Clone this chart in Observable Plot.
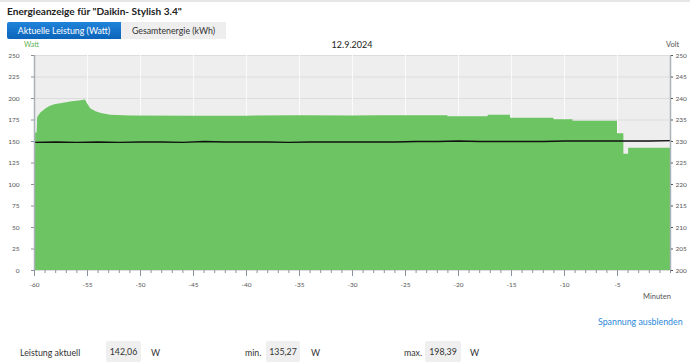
<!DOCTYPE html>
<html>
<head>
<meta charset="utf-8">
<script src="https://cdn.jsdelivr.net/npm/d3@7"></script>
<script src="https://cdn.jsdelivr.net/npm/@observablehq/plot@0.6"></script>
<style>
  html, body { margin:0; padding:0; background:#fff; }
  body { width:690px; height:364px; position:relative; overflow:hidden; font-family: Lato, "Open Sans", sans-serif; color:#333; }
  .abs { position:absolute; white-space:nowrap; }
  #topline { position:absolute; left:0; top:0; width:690px; height:2px; background:#e6e6e6; }
  #title { left:7px; top:5px; font-size:10.1px; font-weight:bold; color:#222; }
  .tab { top:22px; height:17px; line-height:17px; font-size:8.8px; text-align:center; }
  #tab1 { left:7px; width:114px; background:linear-gradient(#2183da,#0b64ba); color:#fff; border-radius:2px 0 0 2px; }
  #tab2 { left:121px; width:105px; background:#eeeeee; color:#333; }
  #watt { left:24px; top:40px; font-size:7px; color:#5fb455; }
  #date { left:352px; top:39px; font-size:9px; color:#222; transform:translateX(-50%); }
  #volt { left:666px; top:40px; font-size:7.5px; color:#555; }
  #chart { position:absolute; left:0; top:40px; }
  #minuten { left:643px; top:292px; font-size:7.5px; color:#555; }
  #toggle { left:598px; top:316px; font-size:8.8px; color:#2b8ad9; }
  .lbl { top:347px; font-size:8.8px; color:#333; }
  .box { top:341px; height:21px; line-height:21px; background:#efefef; font-size:8.8px; color:#333; text-align:center; border-radius:2px; }
</style>
</head>
<body>
<div id="topline"></div>
<div id="title" class="abs">Energieanzeige für "Daikin- Stylish 3.4"</div>
<div id="tab1" class="abs tab">Aktuelle Leistung (Watt)</div>
<div id="tab2" class="abs tab">Gesamtenergie (kWh)</div>
<div id="watt" class="abs">Watt</div>
<div id="date" class="abs">12.9.2024</div>
<div id="volt" class="abs">Volt</div>
<div id="chart"></div>
<div id="minuten" class="abs">Minuten</div>
<div id="toggle" class="abs">Spannung ausblenden</div>
<div class="abs lbl" style="left:20px">Leistung aktuell</div>
<div class="abs box" style="left:106px;width:35px">142,06</div>
<div class="abs lbl" style="left:151px">W</div>
<div class="abs lbl" style="left:245px">min.</div>
<div class="abs box" style="left:266px;width:34px">135,27</div>
<div class="abs lbl" style="left:311px">W</div>
<div class="abs lbl" style="left:404px">max.</div>
<div class="abs box" style="left:425px;width:36px">198,39</div>
<div class="abs lbl" style="left:470px">W</div>
<script>
// Power (W) over time (minutes before now)
const powerMinutes = [-60, -59.9, -59.9, -59.75, -59.7, -59.4, -58.9, -58.5, -58.0, -57.5, -56.6, -55.6, -55.2, -55.0, -54.7, -54.2, -53.7, -52.8, -50.9,
  -45, -40, -35, -30, -27.4, -21.0, -21.0, -17.2, -17.2, -15.1, -15.1, -11.0, -11.0, -9.2, -9.2, -5.0, -5.0, -4.4, -4.4, -3.95, -3.95, 0];
const powerWatts = [144, 144, 160, 160, 178, 183, 188, 191, 193, 194, 196, 197.5, 198.39, 194, 188, 184.5, 182.5, 180.5, 179.6,
  179.5, 179.5, 179.8, 179.6, 179.8, 179.8, 178.7, 178.7, 180.6, 180.6, 177.1, 177.1, 175.2, 175.2, 173.6, 173.6, 159, 159, 135.27, 135.27, 142.06, 142.06];

// Voltage (V)
const voltMinutes = [-60, -58, -56, -54, -52, -50, -48, -46, -44, -42, -40, -38, -36, -34, -32, -30, -28, -26, -24, -22, -20, -18, -16, -14, -12, -10, -8, -6, -4, -2, 0];
const voltValues = [229.8, 229.9, 229.8, 229.9, 229.8, 229.9, 229.9, 229.8, 230.0, 229.9, 229.9, 229.9, 229.8, 229.9, 229.9, 229.9, 229.9, 229.9, 230.0, 230.0, 230.1, 230.0, 230.0, 230.0, 230.0, 230.1, 230.1, 230.1, 230.1, 230.1, 230.2];

const wattTicks = [0, 25, 50, 75, 100, 125, 150, 175, 200, 225, 250];
const majorMinuteTicks = [-60, -55, -50, -45, -40, -35, -30, -25, -20, -15, -10, -5];
const minorMinuteTicks = d3.range(-60, 0.1, 1);

const power = powerMinutes.map((m, i) => ({m, w: powerWatts[i]}));
const volt = voltMinutes.map((m, i) => ({m, v: voltValues[i]}));
const vToW = v => (v - 200) * 5;

const chart = Plot.plot({
  width: 690, height: 265,
  marginLeft: 34, marginRight: 20, marginTop: 15, marginBottom: 35,
  x: {domain: [-60, 0]},
  y: {domain: [0, 250]},
  style: {fontFamily: "Lato, sans-serif", fontSize: "6.5px", color: "#555", background: "transparent", overflow: "visible"},
  marks: [
    Plot.frame({fill: "#eeeeee", stroke: null}),
    Plot.gridY(wattTicks, {stroke: "#dcdcdc", strokeOpacity: 1}),
    Plot.gridX(majorMinuteTicks, {stroke: "#fafafa", strokeOpacity: 1}),
    Plot.area(power, {x1: "m", y1: 0, y2: "w", fill: "#6cc462"}),
    Plot.lineY(volt, {x: "m", y: d => vToW(d.v), stroke: "#111", strokeWidth: 1.4}),
    Plot.ruleX([-60], {stroke: "#a9b1b9", strokeWidth: 1.5}),
    Plot.ruleX([0], {stroke: "#a9b1b9", strokeWidth: 1.5}),
    Plot.axisY({anchor: "left", ticks: wattTicks, tickSize: 3, tickPadding: 12, label: null, stroke: "#8a949e"}),
    Plot.axisY({anchor: "right", ticks: wattTicks, tickFormat: d => String(200 + d / 5), tickSize: 2, tickPadding: 3, label: null, stroke: "#555"}),
    Plot.axisX({ticks: minorMinuteTicks, tickSize: 3, tickFormat: () => "", label: null, stroke: "#8a949e"}),
    Plot.axisX({ticks: majorMinuteTicks, tickSize: 6, tickPadding: 6, tickFormat: d => String(d), label: null, stroke: "#8a949e"})
  ]
});
document.getElementById("chart").appendChild(chart);
</script>
</body>
</html>
